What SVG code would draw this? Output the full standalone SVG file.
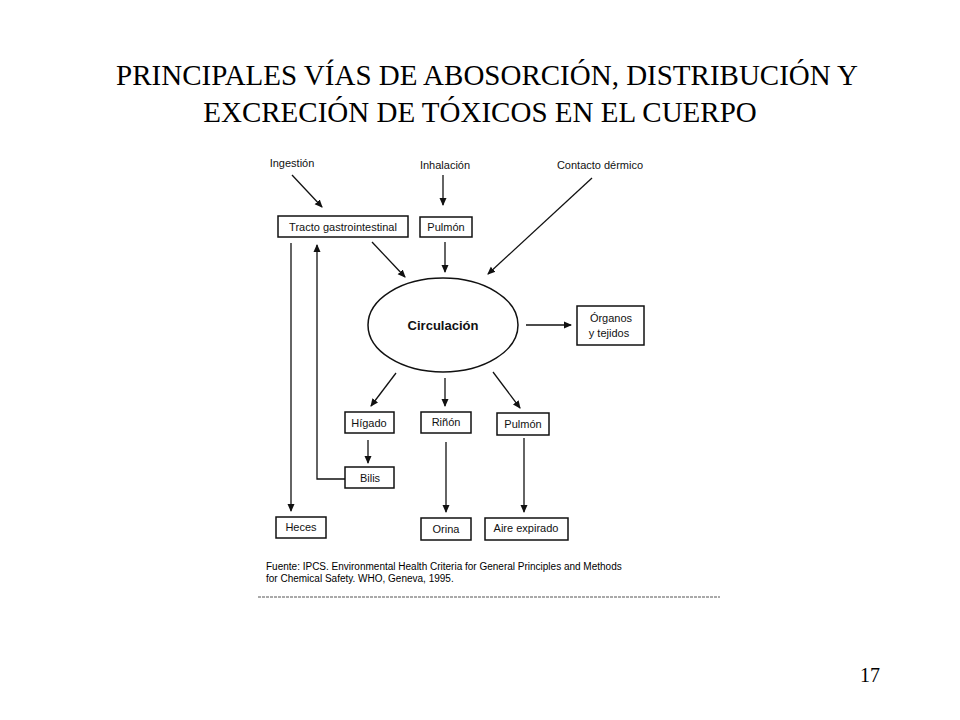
<svg xmlns="http://www.w3.org/2000/svg" width="960" height="720" viewBox="0 0 960 720">
<style>
.t{font-family:"Liberation Serif",serif;font-size:29px;fill:#000;text-anchor:middle}
.l{font-family:"Liberation Sans",Arial,sans-serif;font-size:11px;fill:#111;text-anchor:middle}
.b{fill:#fff;stroke:#111;stroke-width:1.5}
.c{stroke:#111;stroke-width:1.3;fill:none;marker-end:url(#a)}
</style>
<defs><marker id="a" markerWidth="8" markerHeight="8" refX="7" refY="4" orient="auto" markerUnits="userSpaceOnUse"><path d="M0,0.5 L8,4 L0,7.5 z" fill="#111"/></marker></defs>
<rect width="960" height="720" fill="#fff"/>
<text class="t" x="487" y="85">PRINCIPALES VÍAS DE ABOSORCIÓN, DISTRIBUCIÓN Y</text>
<text class="t" x="480" y="122">EXCRECIÓN DE TÓXICOS EN EL CUERPO</text>
<text x="870" y="682" style="font-family:'Liberation Serif',serif;font-size:20px" text-anchor="middle">17</text>
<g id="ingestion"><text class="l" x="292" y="167">Ingestión</text></g>
<g id="inhalacion"><text class="l" x="445" y="169">Inhalación</text></g>
<g id="contacto"><text class="l" x="600" y="169">Contacto dérmico</text></g>
<g id="tracto"><rect class="b" x="278" y="216" width="130" height="21"/><text class="l" x="343" y="231">Tracto gastrointestinal</text></g>
<g id="pulmon1"><rect class="b" x="420" y="217" width="52" height="20"/><text class="l" x="446" y="231">Pulmón</text></g>
<g id="circulacion"><ellipse cx="443" cy="325" rx="75" ry="47" fill="#fff" stroke="#111" stroke-width="1.5"/><text class="l" x="443" y="330" style="font-size:13px;font-weight:bold">Circulación</text></g>
<g id="organos"><rect class="b" x="577" y="306" width="67" height="39"/><text class="l" x="611" y="322">Órganos</text><text class="l" x="609" y="337">y tejidos</text></g>
<g id="higado"><rect class="b" x="345" y="412" width="49" height="21"/><text class="l" x="369" y="427">Hígado</text></g>
<g id="rinon"><rect class="b" x="421" y="412" width="50" height="21"/><text class="l" x="446" y="426">Riñón</text></g>
<g id="pulmon2"><rect class="b" x="497" y="413" width="52" height="22"/><text class="l" x="523" y="428">Pulmón</text></g>
<g id="bilis"><rect class="b" x="345" y="467" width="49" height="21"/><text class="l" x="370" y="482">Bilis</text></g>
<g id="heces"><rect class="b" x="276" y="517" width="50" height="21"/><text class="l" x="301" y="531">Heces</text></g>
<g id="orina"><rect class="b" x="421" y="518" width="50" height="22"/><text class="l" x="446" y="533">Orina</text></g>
<g id="aire"><rect class="b" x="485" y="518" width="83" height="22"/><text class="l" x="526" y="532">Aire expirado</text></g>
<g id="connectors">
<path class="c" d="M292,175 L322,207"/>
<path class="c" d="M443,175 L443,205"/>
<path class="c" d="M592,178 L488,274"/>
<path class="c" d="M372,242 L405,277"/>
<path class="c" d="M445,242 L445,272"/>
<path class="c" d="M526,325 L571,325"/>
<path class="c" d="M396,373 L371,406"/>
<path class="c" d="M445,378 L445,406"/>
<path class="c" d="M493,372 L520,408"/>
<path class="c" d="M368,440 L368,463"/>
<path class="c" d="M446,442 L446,512"/>
<path class="c" d="M524,438 L524,512"/>
<path class="c" d="M291,243 L291,511"/>
<path class="c" d="M345,479 L317,479 L317,245"/>
</g>
<g id="fuente">
<text x="266" y="570" style="font-family:'Liberation Sans',Arial,sans-serif;font-size:10px">Fuente:  IPCS. Environmental Health Criteria for General Principles and Methods</text>
<text x="266" y="582" style="font-family:'Liberation Sans',Arial,sans-serif;font-size:10px">for Chemical Safety. WHO, Geneva, 1995.</text>
<line x1="258" y1="597" x2="720" y2="597" stroke="#555" stroke-width="1" stroke-dasharray="3,1"/>
</g>
</svg>
